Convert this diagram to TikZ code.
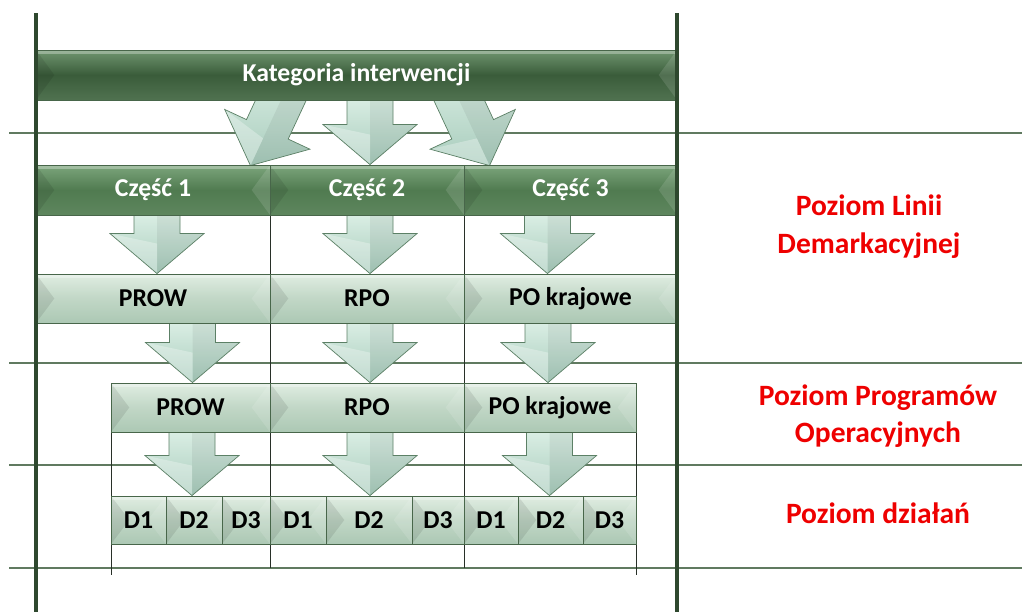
\documentclass[tikz,border=0pt]{standalone}
\usepackage{fontspec}
\setmainfont{Carlito}
\usetikzlibrary{calc}
\usetikzlibrary{positioning}

\definecolor{katTop}{RGB}{112,150,112}
\definecolor{katMid}{RGB}{58,92,58}
\definecolor{katBot}{RGB}{80,114,80}
\definecolor{czTop}{RGB}{124,165,124}
\definecolor{czMid}{RGB}{80,123,80}
\definecolor{czBot}{RGB}{94,134,94}
\definecolor{lightTop}{RGB}{224,237,226}
\definecolor{lightMid}{RGB}{193,215,198}
\definecolor{lightBot}{RGB}{172,200,180}
\definecolor{boxline}{RGB}{72,102,74}
\definecolor{arrTop}{RGB}{218,238,228}
\definecolor{arrBot}{RGB}{168,204,188}
\definecolor{arrLine}{RGB}{92,128,102}
\definecolor{gridline}{RGB}{96,122,96}
\definecolor{frameline}{RGB}{46,72,46}
\definecolor{divline}{RGB}{40,48,40}
\definecolor{levelred}{RGB}{238,0,0}

\newcommand{\px}{0.025cm}

\pgfdeclarelayer{bg}
\pgfsetlayers{bg,main}

\tikzset{
    box/.style={
        draw=boxline,
        line width=0.6pt,
        inner sep=0pt,
        minimum height=49*\px,
        font=\bfseries\fontsize{18.3}{20}\selectfont,
        path picture={
            \fill[black,opacity=.09] (path picture bounding box.north west)
                -- ([xshift=13pt]path picture bounding box.west)
                -- (path picture bounding box.south west) -- cycle;
            \fill[white,opacity=.12] (path picture bounding box.north east)
                -- ([xshift=-13pt]path picture bounding box.east)
                -- (path picture bounding box.south east) -- cycle;
            \fill[white,opacity=.3] (path picture bounding box.north west)
                rectangle ([yshift=-2.5pt]path picture bounding box.north east);
        }},
    katbox/.style={
        box,
        text=white,
        top color=katTop, bottom color=katBot, middle color=katMid},
    czbox/.style={
        box,
        text=white,
        top color=czTop, bottom color=czBot, middle color=czMid},
    progbox/.style={
        box,
        text=black,
        top color=lightTop, bottom color=lightBot, middle color=lightMid},
    level/.style={
        text=levelred,
        align=center,
        font=\bfseries\fontsize{21}{27}\selectfont},
    grid/.style={draw=gridline, line width=1.5pt},
    divider/.style={draw=divline, line width=0.7pt},
    frame/.style={draw=frameline, line width=2.2pt},
    pics/blockarrow/.style={code={
        \shade[top color=arrTop, bottom color=arrBot]
            (0,0) -- (-47,-40) -- (-23,-40) -- (-23,-#1) -- (23,-#1) -- (23,-40) -- (47,-40) -- cycle;
        \fill[black,opacity=.06] (0,0) -- (47,-40) -- (23,-40) -- (23,-#1) -- (0,-#1) -- cycle;
        \fill[white,opacity=.3] (0,0) -- (-47,-40) -- (0,-30) -- cycle;
        \draw[arrLine, line width=0.5pt]
            (0,0) -- (-47,-40) -- (-23,-40) -- (-23,-#1) -- (23,-#1) -- (23,-40) -- (47,-40) -- cycle;
    }}
}

\begin{document}
\begin{tikzpicture}[x=0.025cm, y=-0.025cm]
    \useasboundingbox (0,0) rectangle (1022,612);

    % top level
    \node[katbox, minimum width=641*\px, minimum height=50*\px] (kat) at (356.5,75) {Kategoria interwencji};

    \node[czbox, minimum width=234*\px, minimum height=50*\px] (cz1) at (153,190) {Część 1};
    \node[czbox, minimum width=194*\px, minimum height=50*\px] (cz2) at (367,190) {Część 2};
    \node[czbox, minimum width=213*\px, minimum height=50*\px] (cz3) at (570.5,190) {Część 3};

    \node[progbox, minimum width=234*\px] (pa1) at (153,298.5) {PROW};
    \node[progbox, minimum width=194*\px] (pa2) at (367,298.5) {RPO};
    \node[progbox, minimum width=213*\px] (pa3) at (570.5,298.5) {PO krajowe};

    % programmes
    \node[progbox, minimum width=159*\px] (qa1) at (190.5,407.5) {PROW};
    \node[progbox, minimum width=194*\px] (qa2) at (367,407.5) {RPO};
    \node[progbox, minimum width=172*\px] (qa3) at (550,407.5) {PO krajowe};

    % actions
    \node[progbox, minimum width=55*\px, minimum height=48*\px] (d11) at (138.5,520) {D1};
    \node[progbox, minimum width=56*\px, minimum height=48*\px] (d12) at (194,520) {D2};
    \node[progbox, minimum width=48*\px, minimum height=48*\px] (d13) at (246,520) {D3};
    \node[progbox, minimum width=56*\px, minimum height=48*\px] (d21) at (298,520) {D1};
    \node[progbox, minimum width=86*\px, minimum height=48*\px] (d22) at (369,520) {D2};
    \node[progbox, minimum width=52*\px, minimum height=48*\px] (d23) at (438,520) {D3};
    \node[progbox, minimum width=54*\px, minimum height=48*\px] (d31) at (491,520) {D1};
    \node[progbox, minimum width=65*\px, minimum height=48*\px] (d32) at (550.5,520) {D2};
    \node[progbox, minimum width=53*\px, minimum height=48*\px] (d33) at (609.5,520) {D3};

    \node[level] (lv1) at (869,227) {Poziom Linii\\Demarkacyjnej};
    \node[level, font=\bfseries\fontsize{21}{26.5}\selectfont] (lv2) at (878,416) {Poziom Programów\\Operacyjnych};
    \node[level] (lv3) at (878,513) {Poziom działań};

    \begin{pgfonlayer}{bg}
        \foreach \y in {133,363,465,568}
            \draw[grid] (9,\y) -- (1022,\y);
        \foreach \x in {270,464}
            \draw[divider] (\x,165) -- (\x,568);
        \foreach \x in {111,636}
            \draw[divider] (\x,383) -- (\x,575);

        \pic[rotate=-25] at ($(cz1.north east)+(-20,1)$) {blockarrow=95};
        \pic at ($(cz2.north)+(3,0)$) {blockarrow=68};
        \pic[rotate=25] at ($(cz3.north west)+(26,1)$) {blockarrow=95};

        \pic at ($(pa1.north)+(4,0)$) {blockarrow=59};
        \pic at ($(pa2.north)+(3,0)$) {blockarrow=59};
        \pic at ($(pa3.north)+(-23,0)$) {blockarrow=59};

        \pic at ($(qa1.north)+(2,0)$) {blockarrow=60};
        \pic at ($(qa2.north)+(3,0)$) {blockarrow=60};
        \pic at ($(qa3.north)+(-2,0)$) {blockarrow=60};

        \pic at ($(d12.north)+(-2,0)$) {blockarrow=64};
        \pic at ($(d22.north)+(1,0)$) {blockarrow=64};
        \pic at ($(d32.north)+(-1,0)$) {blockarrow=64};
    \end{pgfonlayer}

    \draw[frame] (36,13) -- (36,612);
    \draw[frame] (677,13) -- (677,612);
\end{tikzpicture}
\end{document}
